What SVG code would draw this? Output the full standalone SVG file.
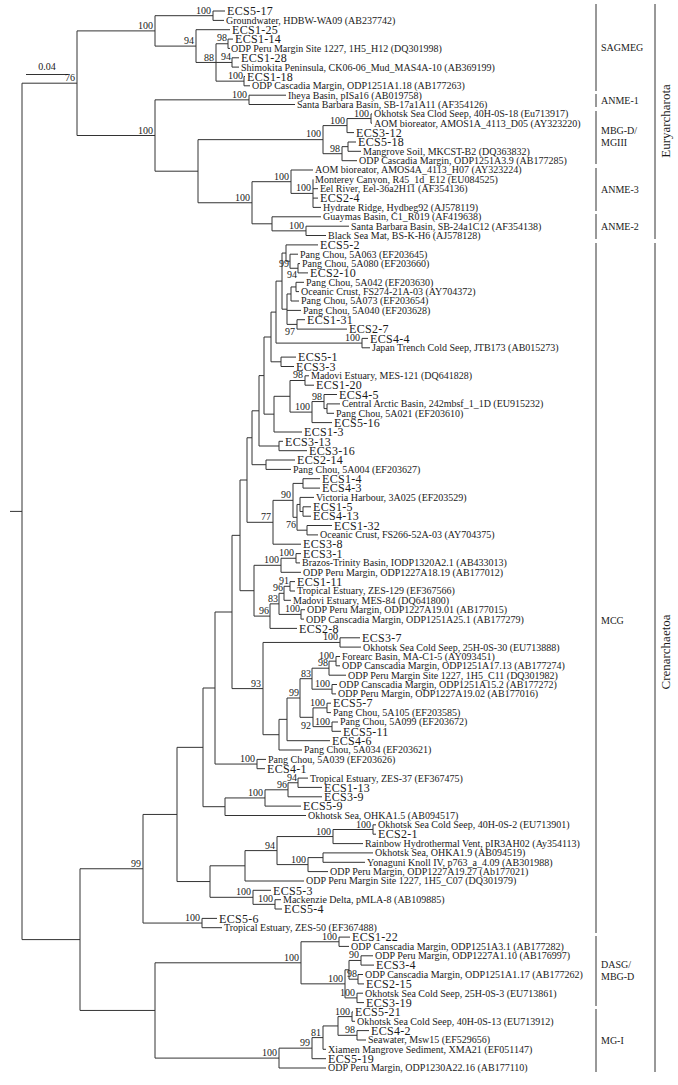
<svg xmlns="http://www.w3.org/2000/svg" width="678" height="1085" viewBox="0 0 678 1085">
<style>
.ln{fill:none;stroke:#333;stroke-width:1}
.t{font-family:"Liberation Serif","Times New Roman",serif;font-size:10px;fill:#1a1a1a}
.e{font-family:"Liberation Serif","Times New Roman",serif;font-size:12px;letter-spacing:0.3px;fill:#1a1a1a}
.b{font-family:"Liberation Serif","Times New Roman",serif;font-size:10px;fill:#1a1a1a;text-anchor:end}
.c{font-family:"Liberation Serif","Times New Roman",serif;font-size:10px;fill:#1a1a1a}
.r{font-family:"Liberation Serif","Times New Roman",serif;font-size:13px;fill:#1a1a1a;text-anchor:middle}
</style>
<rect width="678" height="1085" fill="#fff"/>
<g id="connectors" class="ln">
<path d="M22 83.2V939.6 M10 511.4H22 M22 83.2H77 M22 939.6H80"/>
<path d="M77 30.9V135.5 M77 30.9H155 M77 135.5H155
M155 15.7V46.1 M155 15.7H213 M155 46.1H196
M213 11V20.4 M213 11H225 M213 20.4H224
M196 29.7V62.45 M196 29.7H230 M196 62.45H216
M216 43.75V81.15 M216 43.75H228 M216 62.45H232 M216 81.15H244
M228 39.1V48.4 M228 39.1H233 M228 48.4H230
M232 57.8V67.1 M232 57.8H239 M232 67.1H239
M244 76.5V85.8 M244 76.5H245 M244 85.8H250
M155 99.85V171.2 M155 99.85H249 M155 171.2H198
M249 95.2V104.5 M249 95.2H286 M249 104.5H295
M198 139.65V202.75 M198 139.65H323 M198 202.75H252
M323 125.6V153.7 M323 125.6H347 M323 153.7H342
M347 118.55V132.6 M347 118.55H371 M347 132.6H354
M371 113.9V123.2 M371 113.9H372 M371 123.2H372
M342 146.65V160.7 M342 146.65H348 M342 160.7H357
M348 142V151.3 M348 142H356 M348 151.3H361
M252 181.7V223.8 M252 181.7H291 M252 223.8H272
M291 170V193.4 M291 170H313 M291 193.4H313
M313 179.4V207.4 M313 188.7H318 M313 198.1H318 M313 207.4H321
M272 216.8V230.85 M272 216.8H321 M272 230.85H306
M306 226.2V235.5 M306 226.2H349 M306 235.5H326"/>
<path d="M80 868.75V1010.45 M80 868.75H143 M80 1010.45H155
M143 814.45V923.05 M143 814.45H177 M143 923.05H202
M202 918.4V927.7 M202 918.4H217 M202 927.7H222
M177 747.35V881.55 M177 747.35H203 M177 881.55H210
M203 688V806.7 M203 688H215 M203 806.7H225
M215 612V764.05 M215 612H232 M215 764.05H257
M257 759.4V768.7 M257 759.4H266 M257 768.7H265
M232 535.35V688.6 M232 535.35H240 M232 688.6H263
M240 480V590.7 M240 480H247 M240 590.7H254
M247 437.75V522.3 M247 437.75H252 M247 522.3H273
M252 410.8V464.7 M252 410.8H259 M252 464.7H266
M259 375.6V446 M259 375.6H264 M259 446H279
M279 441.3V450.7 M279 441.3H283 M279 450.7H307
M266 460V469.4 M266 460H295 M266 469.4H291
M264 337V414.15 M264 337H271 M264 414.15H274
M271 312.1V361.8 M271 312.1H276 M271 361.8H281
M281 357.1V366.5 M281 357.1H296 M281 366.5H294
M276 281.1V343.1 M276 281.1H282 M276 343.1H362
M362 338.4V347.8 M362 338.4H368 M362 347.8H370
M282 253.05V309.2 M282 253.05H286 M282 309.2H287
M286 244.9V261.2 M286 244.9H318 M286 261.2H290
M290 254.2V268.25 M290 254.2H298 M290 268.25H298
M298 263.6V272.9 M298 263.6H300 M298 272.9H308
M287 293.98V324.4 M287 293.98H291 M287 310.4H301 M287 324.4H297
M291 286.95V301 M291 286.95H296 M291 301H299
M296 282.3V291.6 M296 282.3H304 M296 291.6H299
M297 319.7V329.1 M297 319.7H305 M297 329.1H347
M274 396.3V432 M274 396.3H290 M274 432H302
M290 380.5V412.1 M290 380.5H305 M290 412.1H312
M305 375.8V385.2 M305 375.8H309 M305 385.2H314
M312 401.55V422.6 M312 401.55H324 M312 422.6H332
M324 394.5V408.6 M324 394.5H337 M324 408.6H327
M327 403.9V413.3 M327 403.9H340 M327 413.3H334
M273 500.35V544.2 M273 500.35H293 M273 544.2H301
M293 483.4V517.3 M293 483.4H303 M293 517.3H297
M303 478.7V488.1 M303 478.7H320 M303 488.1H320
M297 504.45V530.2 M297 504.45H300 M297 530.2H307
M300 497.4V511.5 M300 497.4H314 M300 511.5H303
M303 506.8V516.2 M303 506.8H311 M303 516.2H311
M307 525.5V534.9 M307 525.5H332 M307 534.9H318
M254 565.3V616.1 M254 565.3H281 M254 616.1H270
M281 558.25V572.3 M281 558.25H296 M281 572.3H301
M296 553.6V562.9 M296 553.6H301 M296 562.9H300
M270 603.85V628.4 M270 603.85H279 M270 628.4H297
M279 593.3V614.4 M279 593.3H284 M279 614.4H301
M284 586.3V600.3 M284 586.3H290 M284 600.3H291
M290 581.6V591 M290 581.6H295 M290 591H295
M301 609.7V619.1 M301 609.7H305 M301 619.1H304
M263 642.45V734.7 M263 642.45H340 M263 734.7H279
M340 637.8V647.1 M340 637.8H360 M340 647.1H361
M279 719.35V750 M279 719.35H287 M279 750H302
M287 698V740.7 M287 698H300 M287 740.7H330
M300 678.7V717.3 M300 678.7H312 M300 717.3H313
M312 668.2V689.2 M312 668.2H329 M312 689.2H332
M329 661.15V675.2 M329 661.15H336 M329 675.2H346
M336 656.5V665.8 M336 656.5H340 M336 665.8H340
M332 684.5V693.9 M332 684.5H337 M332 693.9H336
M313 707.9V726.65 M313 707.9H327 M313 726.65H332
M327 703.2V712.6 M327 703.2H331 M327 712.6H331
M332 722V731.3 M332 722H338 M332 731.3H341
M225 797.95V815.5 M225 797.95H265 M225 815.5H306
M265 789.8V806.1 M265 789.8H288 M265 806.1H301
M288 782.75V796.8 M288 782.75H298 M288 796.8H322
M298 778.1V787.4 M298 778.1H308 M298 787.4H322
M210 865.8V897.3 M210 865.8H245 M210 897.3H253
M245 850.6V881 M245 850.6H277 M245 881H304
M277 836.55V864.6 M277 836.55H333 M277 864.6H308
M333 829.5V843.6 M333 829.5H373 M333 843.6H363
M373 824.8V834.2 M373 824.8H376 M373 834.2H376
M308 857.6V871.6 M308 857.6H323 M308 871.6H328
M323 852.9V862.3 M323 852.9H373 M323 862.3H365
M253 890.3V904.35 M253 890.3H271 M253 904.35H275
M275 899.7V909 M275 899.7H281 M275 909H282
M155 962.8V1058.1 M155 962.8H301 M155 1058.1H279
M301 941.75V983.85 M301 941.75H339 M301 983.85H345
M339 937.1V946.4 M339 937.1H350 M339 946.4H349
M345 969.8V997.9 M345 969.8H349 M345 997.9H357
M349 960.45V979.2 M349 960.45H361 M349 979.2H358
M361 955.8V965.1 M361 955.8H373 M361 965.1H374
M358 974.5V983.9 M358 974.5H363 M358 983.9H364
M357 993.2V1002.6 M357 993.2H363 M357 1002.6H364
M279 1048.15V1068 M279 1048.15H312 M279 1068H326
M312 1037.6V1058.7 M312 1037.6H323 M312 1058.7H326
M323 1025.95V1049.3 M323 1025.95H338 M323 1049.3H326
M338 1016.6V1035.3 M338 1016.6H352 M338 1035.3H357
M352 1011.9V1021.3 M352 1011.9H353 M352 1021.3H355
M357 1030.6V1040 M357 1030.6H369 M357 1040H366"/>
<path d="M596 4V91 M596 94V107 M596 111V164 M596 168V211 M596 214V239 M596 243V933 M596 936V1006 M596 1009V1072 M655 4V239 M655 243V1072"/>
<path d="M26 74.5H68"/>
</g>
<g id="scale"><text class="t" x="47" y="70" text-anchor="middle">0.04</text></g>
<g id="leaves">
<g id="leaf-1"><text class="e" x="227" y="15.2">ECS5-17</text></g>
<g id="leaf-2"><text class="t" x="226" y="23.8">Groundwater, HDBW-WA09 (AB237742)</text></g>
<g id="leaf-3"><text class="e" x="232" y="33.9">ECS1-25</text></g>
<g id="leaf-4"><text class="e" x="235" y="43.3">ECS1-14</text></g>
<g id="leaf-5"><text class="t" x="231" y="51.8">ODP Peru Margin Site 1227, 1H5_H12 (DQ301998)</text></g>
<g id="leaf-6"><text class="e" x="241" y="62">ECS1-28</text></g>
<g id="leaf-7"><text class="t" x="241" y="70.5">Shimokita Peninsula, CK06-06_Mud_MAS4A-10 (AB369199)</text></g>
<g id="leaf-8"><text class="e" x="247" y="80.7">ECS1-18</text></g>
<g id="leaf-9"><text class="t" x="252" y="89.2">ODP Cascadia Margin, ODP1251A1.18 (AB177263)</text></g>
<g id="leaf-10"><text class="t" x="288" y="98.6">Iheya Basin, pISa16 (AB019758)</text></g>
<g id="leaf-11"><text class="t" x="297" y="107.9">Santa Barbara Basin, SB-17a1A11 (AF354126)</text></g>
<g id="leaf-12"><text class="t" x="374" y="117.3">Okhotsk Sea Clod Seep, 40H-0S-18 (Eu713917)</text></g>
<g id="leaf-13"><text class="t" x="374" y="126.6">AOM bioreator, AMOS1A_4113_D05 (AY323220)</text></g>
<g id="leaf-14"><text class="e" x="356" y="136.8">ECS3-12</text></g>
<g id="leaf-15"><text class="e" x="358" y="146.2">ECS5-18</text></g>
<g id="leaf-16"><text class="t" x="363" y="154.7">Mangrove Soil, MKCST-B2 (DQ363832)</text></g>
<g id="leaf-17"><text class="t" x="359" y="164.1">ODP Cascadia Margin, ODP1251A3.9 (AB177285)</text></g>
<g id="leaf-18"><text class="t" x="315" y="173.4">AOM bioreator, AMOS4A_4113_H07 (AY323224)</text></g>
<g id="leaf-19"><text class="t" x="315" y="182.8">Monterey Canyon, R45_1d_E12 (EU084525)</text></g>
<g id="leaf-20"><text class="t" x="320" y="192.1">Eel River, Eel-36a2H11 (AF354136)</text></g>
<g id="leaf-21"><text class="e" x="320" y="202.3">ECS2-4</text></g>
<g id="leaf-22"><text class="t" x="323" y="210.8">Hydrate Ridge, Hydbeg92 (AJ578119)</text></g>
<g id="leaf-23"><text class="t" x="323" y="220.2">Guaymas Basin, C1_R019 (AF419638)</text></g>
<g id="leaf-24"><text class="t" x="351" y="229.6">Santa Barbara Basin, SB-24a1C12 (AF354138)</text></g>
<g id="leaf-25"><text class="t" x="328" y="238.9">Black Sea Mat, BS-K-H6 (AJ578128)</text></g>
<g id="leaf-26"><text class="e" x="320" y="249.1">ECS5-2</text></g>
<g id="leaf-27"><text class="t" x="300" y="257.6">Pang Chou, 5A063 (EF203645)</text></g>
<g id="leaf-28"><text class="t" x="302" y="267">Pang Chou, 5A080 (EF203660)</text></g>
<g id="leaf-29"><text class="e" x="310" y="277.1">ECS2-10</text></g>
<g id="leaf-30"><text class="t" x="306" y="285.7">Pang Chou, 5A042 (EF203630)</text></g>
<g id="leaf-31"><text class="t" x="301" y="295">Oceanic Crust, FS274-21A-03 (AY704372)</text></g>
<g id="leaf-32"><text class="t" x="301" y="304.4">Pang Chou, 5A073 (EF203654)</text></g>
<g id="leaf-33"><text class="t" x="303" y="313.8">Pang Chou, 5A040 (EF203628)</text></g>
<g id="leaf-34"><text class="e" x="307" y="323.9">ECS1-31</text></g>
<g id="leaf-35"><text class="e" x="349" y="333.3">ECS2-7</text></g>
<g id="leaf-36"><text class="e" x="370" y="342.6">ECS4-4</text></g>
<g id="leaf-37"><text class="t" x="372" y="351.2">Japan Trench Cold Seep, JTB173 (AB015273)</text></g>
<g id="leaf-38"><text class="e" x="298" y="361.3">ECS5-1</text></g>
<g id="leaf-39"><text class="e" x="296" y="370.7">ECS3-3</text></g>
<g id="leaf-40"><text class="t" x="311" y="379.2">Madovi Estuary, MES-121 (DQ641828)</text></g>
<g id="leaf-41"><text class="e" x="316" y="389.4">ECS1-20</text></g>
<g id="leaf-42"><text class="e" x="339" y="398.7">ECS4-5</text></g>
<g id="leaf-43"><text class="t" x="342" y="407.3">Central Arctic Basin, 242mbsf_1_1D (EU915232)</text></g>
<g id="leaf-44"><text class="t" x="336" y="416.7">Pang Chou, 5A021 (EF203610)</text></g>
<g id="leaf-45"><text class="e" x="334" y="426.8">ECS5-16</text></g>
<g id="leaf-46"><text class="e" x="304" y="436.2">ECS1-3</text></g>
<g id="leaf-47"><text class="e" x="285" y="445.5">ECS3-13</text></g>
<g id="leaf-48"><text class="e" x="309" y="454.9">ECS3-16</text></g>
<g id="leaf-49"><text class="e" x="297" y="464.2">ECS2-14</text></g>
<g id="leaf-50"><text class="t" x="293" y="472.8">Pang Chou, 5A004 (EF203627)</text></g>
<g id="leaf-51"><text class="e" x="322" y="482.9">ECS1-4</text></g>
<g id="leaf-52"><text class="e" x="322" y="492.3">ECS4-3</text></g>
<g id="leaf-53"><text class="t" x="316" y="500.8">Victoria Harbour, 3A025 (EF203529)</text></g>
<g id="leaf-54"><text class="e" x="313" y="511">ECS1-5</text></g>
<g id="leaf-55"><text class="e" x="313" y="520.4">ECS4-13</text></g>
<g id="leaf-56"><text class="e" x="334" y="529.7">ECS1-32</text></g>
<g id="leaf-57"><text class="t" x="320" y="538.3">Oceanic Crust, FS266-52A-03 (AY704375)</text></g>
<g id="leaf-58"><text class="e" x="303" y="548.4">ECS3-8</text></g>
<g id="leaf-59"><text class="e" x="303" y="557.8">ECS3-1</text></g>
<g id="leaf-60"><text class="t" x="302" y="566.3">Brazos-Trinity Basin, IODP1320A2.1 (AB433013)</text></g>
<g id="leaf-61"><text class="t" x="303" y="575.7">ODP Peru Margin, ODP1227A18.19 (AB177012)</text></g>
<g id="leaf-62"><text class="e" x="297" y="585.8">ECS1-11</text></g>
<g id="leaf-63"><text class="t" x="297" y="594.4">Tropical Estuary, ZES-129 (EF367566)</text></g>
<g id="leaf-64"><text class="t" x="293" y="603.7">Madovi Estuary, MES-84 (DQ641800)</text></g>
<g id="leaf-65"><text class="t" x="307" y="613.1">ODP Peru Margin, ODP1227A19.01 (AB177015)</text></g>
<g id="leaf-66"><text class="t" x="306" y="622.5">ODP Canscadia Margin, ODP1251A25.1 (AB177279)</text></g>
<g id="leaf-67"><text class="e" x="299" y="632.6">ECS2-8</text></g>
<g id="leaf-68"><text class="e" x="362" y="642">ECS3-7</text></g>
<g id="leaf-69"><text class="t" x="363" y="650.5">Okhotsk Sea Cold Seep, 25H-0S-30 (EU713888)</text></g>
<g id="leaf-70"><text class="t" x="342" y="659.9">Forearc Basin, MA-C1-5 (AY093451)</text></g>
<g id="leaf-71"><text class="t" x="342" y="669.2">ODP Canscadia Margin, ODP1251A17.13 (AB177274)</text></g>
<g id="leaf-72"><text class="t" x="348" y="678.6">ODP Peru Margin Site 1227, 1H5_C11 (DQ301982)</text></g>
<g id="leaf-73"><text class="t" x="339" y="687.9">ODP Canscadia Margin, ODP1251A15.2 (AB177272)</text></g>
<g id="leaf-74"><text class="t" x="338" y="697.3">ODP Peru Margin, ODP1227A19.02 (AB177016)</text></g>
<g id="leaf-75"><text class="e" x="333" y="707.4">ECS5-7</text></g>
<g id="leaf-76"><text class="t" x="333" y="716">Pang Chou, 5A105 (EF203585)</text></g>
<g id="leaf-77"><text class="t" x="340" y="725.4">Pang Chou, 5A099 (EF203672)</text></g>
<g id="leaf-78"><text class="e" x="343" y="735.5">ECS5-11</text></g>
<g id="leaf-79"><text class="e" x="332" y="744.9">ECS4-6</text></g>
<g id="leaf-80"><text class="t" x="304" y="753.4">Pang Chou, 5A034 (EF203621)</text></g>
<g id="leaf-81"><text class="t" x="268" y="762.8">Pang Chou, 5A039 (EF203626)</text></g>
<g id="leaf-82"><text class="e" x="267" y="772.9">ECS4-1</text></g>
<g id="leaf-83"><text class="t" x="310" y="781.5">Tropical Estuary, ZES-37 (EF367475)</text></g>
<g id="leaf-84"><text class="e" x="324" y="791.6">ECS1-13</text></g>
<g id="leaf-85"><text class="e" x="324" y="801">ECS3-9</text></g>
<g id="leaf-86"><text class="e" x="303" y="810.3">ECS5-9</text></g>
<g id="leaf-87"><text class="t" x="308" y="818.9">Okhotsk Sea, OHKA1.5 (AB094517)</text></g>
<g id="leaf-88"><text class="t" x="378" y="828.2">Okhotsk Sea Cold Seep, 40H-0S-2 (EU713901)</text></g>
<g id="leaf-89"><text class="e" x="378" y="838.4">ECS2-1</text></g>
<g id="leaf-90"><text class="t" x="365" y="847">Rainbow Hydrothermal Vent, pIR3AH02 (Ay354113)</text></g>
<g id="leaf-91"><text class="t" x="375" y="856.3">Okhotsk Sea, OHKA1.9 (AB094519)</text></g>
<g id="leaf-92"><text class="t" x="367" y="865.7">Yonaguni Knoll IV, p763_a_4.09 (AB301988)</text></g>
<g id="leaf-93"><text class="t" x="330" y="875">ODP Peru Margin, ODP1227A19.27 (Ab177021)</text></g>
<g id="leaf-94"><text class="t" x="306" y="884.4">ODP Peru Margin Site 1227, 1H5_C07 (DQ301979)</text></g>
<g id="leaf-95"><text class="e" x="273" y="894.5">ECS5-3</text></g>
<g id="leaf-96"><text class="t" x="283" y="903.1">Mackenzie Delta, pMLA-8 (AB109885)</text></g>
<g id="leaf-97"><text class="e" x="284" y="913.2">ECS5-4</text></g>
<g id="leaf-98"><text class="e" x="219" y="922.6">ECS5-6</text></g>
<g id="leaf-99"><text class="t" x="224" y="931.1">Tropical Estuary, ZES-50 (EF367488)</text></g>
<g id="leaf-100"><text class="e" x="352" y="941.3">ECS1-22</text></g>
<g id="leaf-101"><text class="t" x="351" y="949.8">ODP Canscadia Margin, ODP1251A3.1 (AB177282)</text></g>
<g id="leaf-102"><text class="t" x="375" y="959.2">ODP Peru Margin, ODP1227A1.10 (AB176997)</text></g>
<g id="leaf-103"><text class="e" x="376" y="969.3">ECS3-4</text></g>
<g id="leaf-104"><text class="t" x="365" y="977.9">ODP Canscadia Margin, ODP1251A1.17 (AB177262)</text></g>
<g id="leaf-105"><text class="e" x="366" y="988.1">ECS2-15</text></g>
<g id="leaf-106"><text class="t" x="365" y="996.6">Okhotsk Sea Cold Seep, 25H-0S-3 (EU713861)</text></g>
<g id="leaf-107"><text class="e" x="366" y="1006.8">ECS3-19</text></g>
<g id="leaf-108"><text class="e" x="355" y="1016.1">ECS5-21</text></g>
<g id="leaf-109"><text class="t" x="357" y="1024.7">Okhotsk Sea Cold Seep, 40H-0S-13 (EU713912)</text></g>
<g id="leaf-110"><text class="e" x="371" y="1034.8">ECS4-2</text></g>
<g id="leaf-111"><text class="t" x="368" y="1043.4">Seawater, Msw15 (EF529656)</text></g>
<g id="leaf-112"><text class="t" x="328" y="1052.7">Xiamen Mangrove Sediment, XMA21 (EF051147)</text></g>
<g id="leaf-113"><text class="e" x="328" y="1062.9">ECS5-19</text></g>
<g id="leaf-114"><text class="t" x="328" y="1071.4">ODP Peru Margin, ODP1230A22.16 (AB177110)</text></g>
</g>
<g id="bootstrap">
<text class="b" x="75" y="81">76</text>
<text class="b" x="153" y="28.9">100</text>
<text class="b" x="211" y="13.7">100</text>
<text class="b" x="194" y="44">94</text>
<text class="b" x="214" y="60.5">88</text>
<text class="b" x="227" y="41">98</text>
<text class="b" x="231" y="60">94</text>
<text class="b" x="243" y="79">100</text>
<text class="b" x="153" y="133.5">100</text>
<text class="b" x="247" y="98">100</text>
<text class="b" x="321" y="137">100</text>
<text class="b" x="345" y="123.5">100</text>
<text class="b" x="369" y="117">100</text>
<text class="b" x="340" y="151.7">98</text>
<text class="b" x="250" y="200.7">100</text>
<text class="b" x="289" y="179.7">100</text>
<text class="b" x="311" y="191.4">100</text>
<text class="b" x="304" y="228.9">100</text>
<text class="b" x="289" y="267">99</text>
<text class="b" x="297" y="278">94</text>
<text class="b" x="295" y="335">97</text>
<text class="b" x="360" y="341">100</text>
<text class="b" x="303" y="378">98</text>
<text class="b" x="322" y="399.5">98</text>
<text class="b" x="310" y="410">100</text>
<text class="b" x="291" y="498.3">90</text>
<text class="b" x="296" y="528">76</text>
<text class="b" x="271" y="520.3">77</text>
<text class="b" x="294" y="556.3">100</text>
<text class="b" x="279" y="563.3">100</text>
<text class="b" x="289" y="584.3">91</text>
<text class="b" x="283" y="591.3">96</text>
<text class="b" x="278" y="601.8">83</text>
<text class="b" x="300" y="612.4">100</text>
<text class="b" x="269" y="614.1">96</text>
<text class="b" x="338" y="640.4">100</text>
<text class="b" x="334" y="659.1">100</text>
<text class="b" x="328" y="666.2">98</text>
<text class="b" x="311" y="676.7">83</text>
<text class="b" x="330" y="687.2">100</text>
<text class="b" x="299" y="696">99</text>
<text class="b" x="325" y="705.9">100</text>
<text class="b" x="330" y="724.6">100</text>
<text class="b" x="311" y="729">92</text>
<text class="b" x="261" y="686.6">93</text>
<text class="b" x="255" y="762">100</text>
<text class="b" x="297" y="780.7">94</text>
<text class="b" x="287" y="787.8">96</text>
<text class="b" x="263" y="796">100</text>
<text class="b" x="371" y="827.5">100</text>
<text class="b" x="331" y="834.5">100</text>
<text class="b" x="306" y="862.6">100</text>
<text class="b" x="275" y="848.6">94</text>
<text class="b" x="251" y="895.3">100</text>
<text class="b" x="273" y="902.3">100</text>
<text class="b" x="200" y="921">100</text>
<text class="b" x="141" y="866.7">99</text>
<text class="b" x="337" y="939.7">100</text>
<text class="b" x="359" y="958.4">90</text>
<text class="b" x="357" y="977.2">98</text>
<text class="b" x="355" y="995.9">100</text>
<text class="b" x="343" y="981.8">100</text>
<text class="b" x="299" y="960.8">100</text>
<text class="b" x="350" y="1014.6">100</text>
<text class="b" x="355" y="1033.3">98</text>
<text class="b" x="321" y="1035.6">81</text>
<text class="b" x="310" y="1046.1">99</text>
<text class="b" x="277" y="1056.1">100</text>
</g>
<g id="groups">
<g id="grp-sagmeg"><text class="c" x="601" y="51">SAGMEG</text></g>
<g id="grp-anme1"><text class="c" x="601" y="104">ANME-1</text></g>
<g id="grp-mbgd"><text class="c" x="601" y="134">MBG-D/</text><text class="c" x="601" y="146">MGIII</text></g>
<g id="grp-anme3"><text class="c" x="601" y="193">ANME-3</text></g>
<g id="grp-anme2"><text class="c" x="601" y="230">ANME-2</text></g>
<g id="grp-mcg"><text class="c" x="601" y="624">MCG</text></g>
<g id="grp-dasg"><text class="c" x="601" y="968">DASG/</text><text class="c" x="601" y="980">MBG-D</text></g>
<g id="grp-mg1"><text class="c" x="601" y="1044">MG-I</text></g>
<g id="grp-eury"><text class="r" transform="translate(670 121) rotate(-90)">Euryarcharota</text></g>
<g id="grp-cren"><text class="r" transform="translate(670 652) rotate(-90)">Crenarchaetoa</text></g>
</g>
</svg>
